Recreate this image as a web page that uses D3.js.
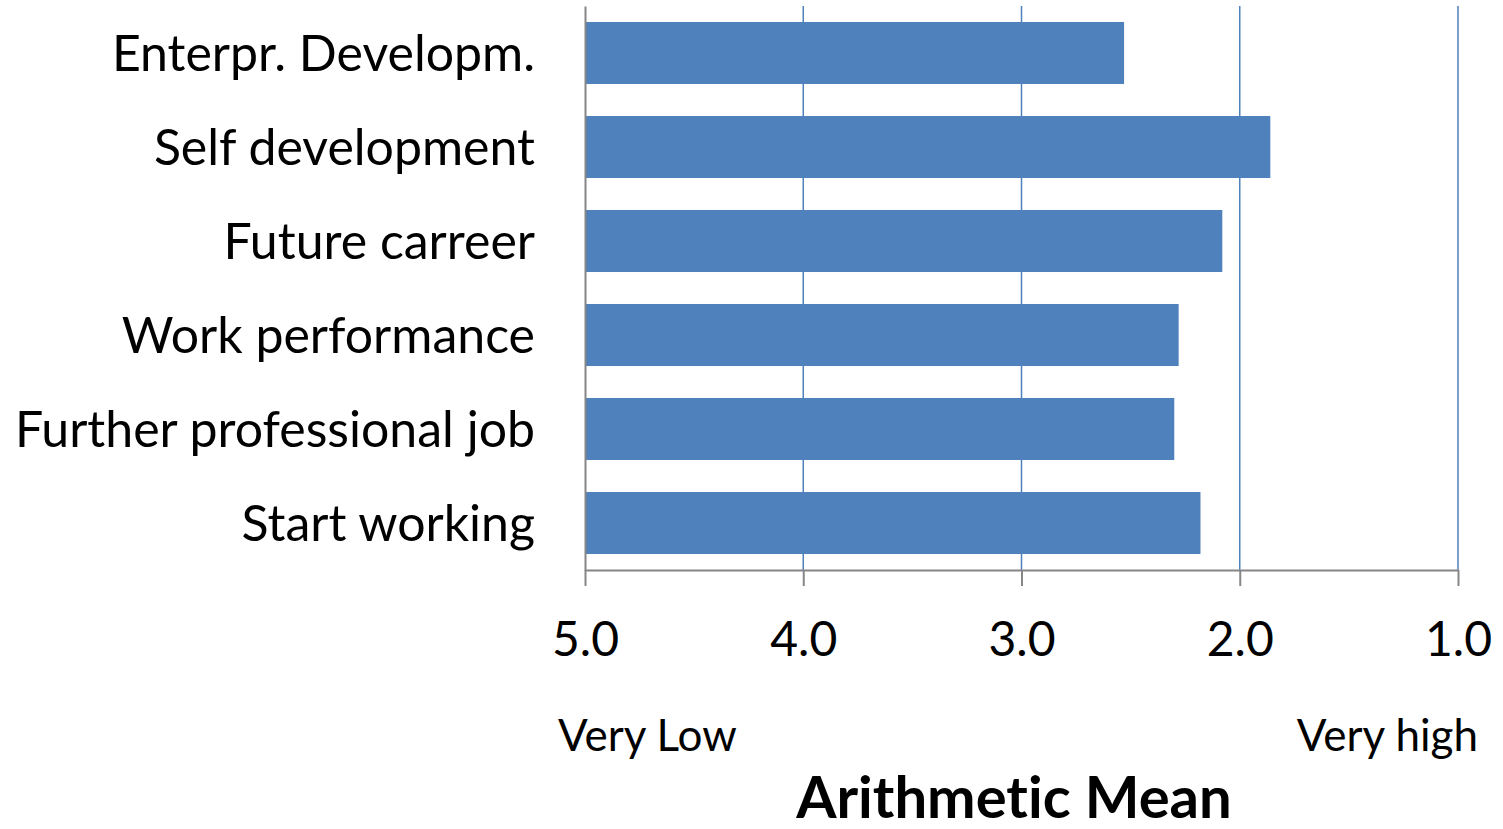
<!DOCTYPE html>
<html>
<head>
<meta charset="utf-8">
<script src="https://cdn.jsdelivr.net/npm/d3@7"></script>
<style>
  body { margin: 0; background: #fff; }
  svg text { font-family: Lato, "Open Sans", sans-serif; fill: #000; font-variant-ligatures: none; }
</style>
</head>
<body>
<svg id="chart" width="1503" height="829"></svg>
<script>
// data, top to bottom as in the chart
var categories = ["Enterpr. Developm.", "Self development", "Future carreer", "Work performance", "Further professional job", "Start working"]
var means = [2.53, 1.86, 2.08, 2.28, 2.30, 2.18]
var tick_values = [5, 4, 3, 2, 1]
var low_label = "Very Low"
var high_label = "Very high"
var axis_title = "Arithmetic Mean"

var svg = d3.select("#chart")
var plot_left = 585, plot_right = 1458, plot_top = 6, plot_bottom = 570
var bar_color = "#4f81bd"
var axis_color = "#868686"

var x = d3.scaleLinear().domain([5, 1]).range([plot_left, plot_right])
var y = d3.scaleBand().domain(categories).range([plot_top, plot_bottom]).paddingInner(0.34).paddingOuter(0.17)

// grid lines
svg.append("g").selectAll("line")
    .data(tick_values.filter(function(d){ return d != 5 }))
    .enter().append("line")
    .attr("x1", function(d){ return x(d) })
    .attr("x2", function(d){ return x(d) })
    .attr("y1", plot_top)
    .attr("y2", plot_bottom)
    .attr("stroke", bar_color)
    .attr("stroke-width", 1.5)

// bars
svg.append("g").selectAll("rect")
    .data(categories)
    .enter().append("rect")
    .attr("x", x(5))
    .attr("y", function(d){ return y(d) })
    .attr("width", function(d, i){ return x(means[i]) - x(5) })
    .attr("height", y.bandwidth())
    .attr("fill", bar_color)

// category axis
var y_axis = svg.append("g")
    .attr("transform", "translate(" + plot_left + ",0)")
    .call(d3.axisLeft(y).tickSize(0).tickPadding(50).tickSizeOuter(0))
y_axis.select(".domain").attr("stroke", axis_color).attr("stroke-width", 2)
y_axis.selectAll("text").attr("font-size", 50).attr("font-family", "Lato").attr("dy", "0.35em")

// value axis
var x_axis = svg.append("g")
    .attr("transform", "translate(0," + plot_bottom + ")")
    .call(d3.axisBottom(x).tickValues(tick_values).tickSize(16).tickSizeOuter(0).tickPadding(36)
        .tickFormat(d3.format(".1f")))
x_axis.select(".domain").attr("stroke", axis_color).attr("stroke-width", 2)
x_axis.selectAll(".tick line").attr("stroke", axis_color).attr("stroke-width", 2)
x_axis.selectAll("text").attr("font-size", 48).attr("font-family", "Lato")

svg.append("text")
    .attr("x", 558)
    .attr("y", 751)
    .attr("font-size", 44)
    .text(low_label)

svg.append("text")
    .attr("x", 1478)
    .attr("y", 751)
    .attr("text-anchor", "end")
    .attr("font-size", 44)
    .text(high_label)

svg.append("text")
    .attr("x", 1014)
    .attr("y", 818)
    .attr("text-anchor", "middle")
    .attr("font-size", 58)
    .attr("font-weight", "bold")
    .text(axis_title)
</script>
</body>
</html>
